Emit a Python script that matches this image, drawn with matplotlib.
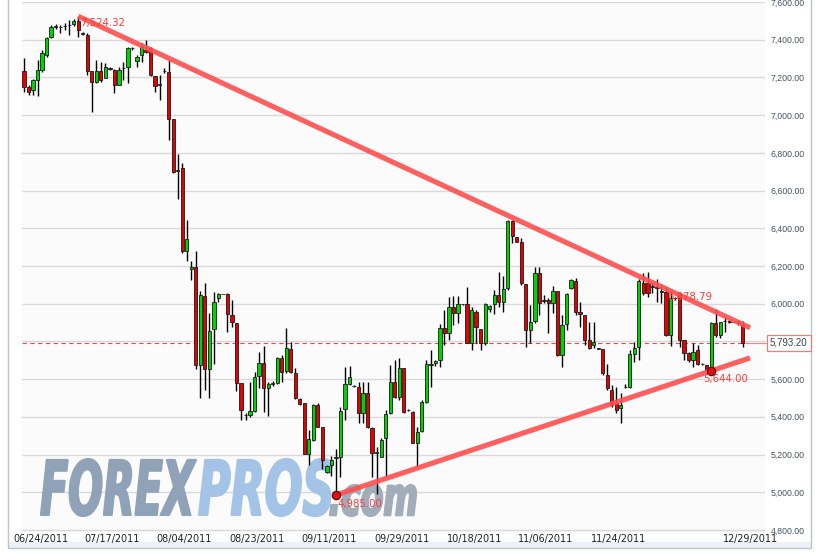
import numpy as np
import matplotlib
matplotlib.use('Agg')
import matplotlib.pyplot as plt
from matplotlib.patches import PathPatch, Rectangle
from matplotlib.textpath import TextPath
from matplotlib.font_manager import FontProperties
from matplotlib.transforms import Affine2D, blended_transform_factory

plt.rcParams['font.family'] = 'DejaVu Sans'

############
### DATA ###
############

# daily candles
opens = [7234, 7151, 7134, 7187, 7240, 7319, 7413, 7473, 7470, 7474,
         7478, 7484, 7500, 7434, 7425, 7236, 7178, 7236, 7195, 7249,
         7240, 7160, 7252, 7257, 7355, 7289, 7319, 7345, 7354, 7207,
         7160, 7236, 7227, 6979, 6705, 6721, 6281, 6182, 6196, 5675,
         6041, 5652, 5866, 6028, 6051, 6051, 5940, 5899, 5577, 5410,
         5410, 5432, 5617, 5687, 5551, 5574, 5581, 5710, 5643, 5758,
         5634, 5493, 5472, 5203, 5277, 5463, 5344, 5109, 5145, 5180,
         5189, 5440, 5574, 5566, 5560, 5422, 5528, 5339, 5210, 5189,
         5286, 5419, 5586, 5507, 5657, 5436, 5427, 5260, 5327, 5481,
         5675, 5684, 5701, 5869, 5846, 5984, 5952, 5997, 5997, 5793,
         5958, 5866, 5793, 5970, 5997, 6046, 6011, 6082, 6439, 6352,
         6325, 6105, 5861, 5910, 6165, 6020, 6020, 6006, 6067, 5728,
         5892, 6082, 6120, 5958, 5940, 5807, 5781, 5763, 5758, 5622,
         5542, 5472, 5445, 5560, 5556, 5731, 5769, 6112, 6108, 6094,
         6090, 6067, 6064, 5834, 6030, 6046, 5807, 5737, 5701, 5754,
         5680, 5675, 5648, 5896, 5834, 5910, 5906, 5905, 5900, 5887]
highs = [7302, 7160, 7190, 7293, 7346, 7417, 7478, 7484, 7478, 7487,
         7505, 7510, 7524.32, 7440, 7434, 7236, 7293, 7284, 7279, 7255,
         7243, 7257, 7284, 7363, 7363, 7319, 7385, 7399, 7363, 7207,
         7213, 7249, 7292, 6979, 6794, 6748, 6444, 6228, 6279, 6069,
         6111, 5949, 6064, 6058, 6053, 6058, 6020, 5899, 5577, 5418,
         5586, 5639, 5746, 5776, 5587, 5590, 5719, 5728, 5869, 5799,
         5657, 5498, 5475, 5330, 5466, 5472, 5348, 5145, 5192, 5228,
         5454, 5663, 5670, 5570, 5586, 5586, 5586, 5344, 5242, 5286,
         5436, 5675, 5701, 5710, 5657, 5440, 5431, 5348, 5490, 5702,
         5754, 5702, 5892, 5967, 6034, 6041, 6041, 6000, 6087, 5984,
         5967, 5866, 6002, 5993, 6073, 6170, 6149, 6444, 6444, 6355,
         6347, 6105, 5993, 6196, 6196, 6046, 6028, 6094, 6067, 5940,
         6058, 6129, 6135, 6011, 5940, 5905, 5905, 5766, 5758, 5680,
         5569, 5560, 5525, 5574, 5754, 5799, 6129, 6161, 6170, 6112,
         6129, 6099, 6087, 6055, 6037, 6055, 5807, 5746, 5790, 5781,
         5683, 5675, 5905, 5970, 5905, 5931, 5912, 5908, 5914, 5908]
lows = [7125, 7107, 7107, 7104, 7231, 7310, 7408, 7455, 7434, 7452,
        7425, 7473, 7417, 7425, 7213, 7019, 7169, 7178, 7195, 7240,
        7116, 7160, 7187, 7169, 7346, 7257, 7284, 7330, 7208, 7124,
        7080, 7222, 6868, 6691, 6553, 6267, 6228, 6126, 5652, 5498,
        5542, 5498, 5680, 6011, 6049, 5852, 5875, 5538, 5383, 5383,
        5400, 5427, 5551, 5427, 5404, 5564, 5574, 5587, 5631, 5631,
        5493, 5463, 5203, 5145, 5274, 5344, 5122, 5104, 5086, 4985,
        5083, 5383, 5569, 5560, 5369, 5369, 5339, 5083, 4990, 5189,
        5086, 5415, 5498, 5489, 5419, 5430, 5260, 5136, 5322, 5472,
        5560, 5670, 5663, 5781, 5807, 5887, 5896, 5994, 5790, 5754,
        5790, 5754, 5781, 5958, 5945, 5984, 5958, 6073, 6320, 6325,
        6099, 5772, 5790, 5896, 5940, 6002, 5843, 5949, 5723, 5666,
        5860, 6076, 5940, 5878, 5781, 5758, 5763, 5760, 5622, 5542,
        5454, 5422, 5365, 5551, 5551, 5693, 5701, 6046, 6037, 6055,
        6011, 6002, 5829, 5776, 6020, 5769, 5701, 5693, 5663, 5675,
        5677, 5645, 5644, 5822, 5816, 5852, 5900, 5902, 5887, 5772]
closes = [7148, 7125, 7187, 7240, 7328, 7408, 7470, 7470, 7468, 7472,
          7476, 7500, 7452, 7430, 7236, 7178, 7234, 7187, 7257, 7247,
          7160, 7240, 7250, 7355, 7357, 7310, 7360, 7335, 7213, 7154,
          7165, 7234, 6979, 6700, 6710, 6281, 6343, 6196, 5675, 6046,
          5652, 5857, 6011, 6049, 6050, 5945, 5904, 5577, 5436, 5408,
          5432, 5613, 5687, 5551, 5574, 5581, 5710, 5640, 5763, 5640,
          5498, 5468, 5203, 5281, 5463, 5348, 5171, 5139, 5171, 5185,
          5433, 5574, 5613, 5564, 5422, 5525, 5344, 5206, 5212, 5277,
          5415, 5586, 5503, 5657, 5427, 5434, 5260, 5322, 5481, 5679,
          5679, 5698, 5869, 5846, 5984, 5952, 5997, 5996, 5793, 5967,
          5875, 5793, 5997, 5990, 6046, 6011, 6078, 6440, 6361, 6329,
          6108, 5861, 5905, 6165, 6002, 6015, 6006, 6067, 5728, 5887,
          6051, 6126, 5958, 5945, 5807, 5763, 5799, 5762, 5631, 5551,
          5463, 5436, 5463, 5556, 5731, 5763, 6122, 6055, 6055, 6090,
          6085, 6060, 5834, 6028, 6028, 5807, 5737, 5701, 5746, 5680,
          5679, 5648, 5900, 5834, 5903, 5908, 5905, 5904, 5902, 5793.20]

# x axis labels and the candle they sit under
tick_labels = ['06/24/2011', '07/17/2011', '08/04/2011', '08/23/2011', '09/11/2011',
               '09/29/2011', '10/18/2011', '11/06/2011', '11/24/2011', '12/29/2011']
tick_idx = [3.8, 19.5, 35.4, 51.5, 67.5, 83.6, 99.6, 115.3, 131.4, 160.8]

last_price = 5793.20

# trend lines: (candle index, value)
upper_pts = [(12, 7524.32), (142, 6078.79)]
lower_pts = [(69, 4985.00), (152, 5644.00)]
line_end = 160.6

##############
### FIGURE ###
##############

W, H = 819, 553
fig = plt.figure(figsize=(W / 100, H / 100), dpi=100)
fig.patch.set_facecolor('white')

# outer frame and bottom band (behind everything)
fig.add_artist(Rectangle((7.5 / W, 5.5 / H), (811 - 7.5) / W, 6 / H,
                         transform=fig.transFigure, fc='#edf1f5', ec='none', zorder=-2))
fig.add_artist(Rectangle((7.5 / W, 5.5 / H), (811 - 7.5) / W, 1.2,
                         transform=fig.transFigure, fill=False, ec='#bfc4c9', lw=1, zorder=-1))

ax = fig.add_axes([22 / W, 21 / H, 743 / W, 530 / H])
ax.set_facecolor('#fbfbfb')
for s in ax.spines.values():
    s.set_visible(False)

# grid
ax.set_axisbelow(True)
ax.yaxis.grid(True, color='#d9d9d9', lw=1)
ax.xaxis.grid(False)

# watermark logo, drawn in pixel coords
def draw_logo(text, color, x0, x1, y_bottom, height):
    fp = FontProperties(family='DejaVu Sans', weight='bold', style='italic')
    tp = TextPath((0, 0), text, size=1, prop=fp)
    ext = tp.get_extents()
    tr = (Affine2D().translate(-ext.x0, -ext.y0)
          .scale((x1 - x0) / ext.width, height / ext.height)
          .translate(x0, H - y_bottom))
    p = PathPatch(tp, transform=tr, facecolor=color, edgecolor=color,
                  lw=1.6, joinstyle='round', zorder=0.8)
    ax.add_patch(p)

draw_logo('FOREX', '#8fa2b7', 41, 196, 516, 57)
draw_logo('PROS', '#a3c4e6', 199, 332, 516, 57)
draw_logo('.com', '#a2adba', 330, 416, 516, 31)

# candles
idx = np.arange(len(opens))
o = np.array(opens)
c = np.array(closes)
hi = np.array(highs)
lo = np.array(lows)
up = c >= o
colors = np.where(up, '#00d400', '#e60000')

ax.vlines(idx, lo, hi, color='black', lw=1, zorder=2)
ax.bar(idx, np.abs(c - o), bottom=np.minimum(o, c), width=0.72,
       color=colors, edgecolor='#1a1a1a', linewidth=0.6, zorder=3)

# last price line
ax.axhline(last_price, color='#e05050', lw=0.8, ls=(0, (4, 3)), zorder=1.5)
ax.plot([len(opens) - 0.5, 164.9], [last_price, last_price], color='#f08a8a',
        lw=0.8, clip_on=False, zorder=1.5)

# trend lines
def trend(pts, x_end):
    (xa, ya), (xb, yb) = pts
    slope = (yb - ya) / (xb - xa)
    return [xa, x_end], [ya, ya + slope * (x_end - xa)]

tx, ty = trend(upper_pts, line_end)
ax.plot(tx, ty, color='#ff4f4f', lw=3.7, alpha=0.9, solid_capstyle='butt', zorder=4)
tx, ty = trend(lower_pts, line_end)
ax.plot(tx, ty, color='#ff4f4f', lw=3.7, alpha=0.9, solid_capstyle='butt', zorder=4)

# point markers
for p in lower_pts:
    ax.plot(p[0], p[1], 'o', ms=6, mfc='#e01010', mec='#5a1010', mew=0.9, zorder=5)

# value labels
lab_kw = dict(textcoords='offset pixels', color='#ff3a3a', fontsize=7.3,
              va='center', ha='left', zorder=6)
ax.annotate('7,524.32', upper_pts[0], xytext=(2, -7), **lab_kw)
ax.annotate('6,078.79', upper_pts[1], xytext=(1, -8), **lab_kw)
ax.annotate('4,985.00', lower_pts[0], xytext=(2, -9), **lab_kw)
ax.annotate('5,644.00', lower_pts[1], xytext=(-8, -8), **lab_kw)

# axes (the 5,800 label sits under the price box, so it is left blank)
ax.set_xlim(-0.44, 163.9)
ax.set_ylim(4789, 7600)
ax.yaxis.tick_right()
yt = np.arange(4800, 7601, 200)
ax.set_yticks(yt)
ax.set_yticklabels(['' if v == 5800 else f'{v:,.2f}' for v in yt], family='Liberation Sans')
ax.tick_params(axis='y', length=0, pad=4.3, labelsize=6.3, labelcolor='#46525e')
ax.set_xticks(tick_idx)
ax.set_xticklabels(tick_labels)
ax.tick_params(axis='x', length=0, pad=1.5, labelsize=6.9, labelcolor='#1e1e1e')

# current price box
bt = blended_transform_factory(ax.transAxes, ax.transData)
ax.annotate(f'{last_price:,.2f}', (1, last_price), xycoords=bt,
            xytext=(5, 0), textcoords='offset pixels', ha='left', va='center',
            fontsize=7, family='Liberation Sans', color='#3a4550',
            bbox=dict(boxstyle='square,pad=0.3', fc='white', ec='#f07c7c', lw=0.9),
            annotation_clip=False, zorder=6)

fig.savefig('out.png', dpi=100)
